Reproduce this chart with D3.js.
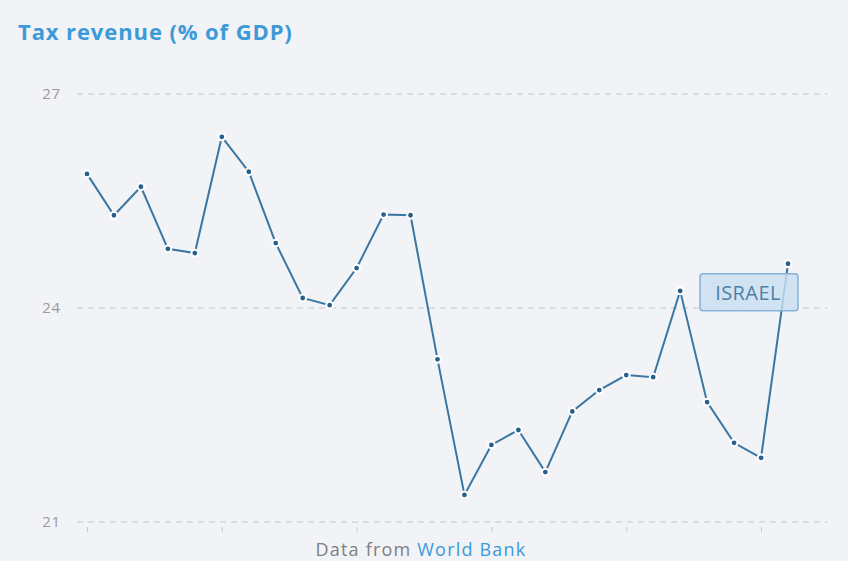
<!DOCTYPE html>
<html>
<head>
<meta charset="utf-8">
<script src="https://cdn.jsdelivr.net/npm/d3@7"></script>
<style>
  html, body { margin: 0; padding: 0; background: #f1f3f7; }
  svg { display: block; }
</style>
</head>
<body>
<svg id="chart" width="848" height="561"></svg>
<script>
const title = "Tax revenue (% of GDP)";
const seriesName = "ISRAEL";
const yearIndex = d3.range(27);
const values = [25.88, 25.30, 25.70, 24.83, 24.77, 26.40, 25.91, 24.91, 24.14, 24.04,
                24.56, 25.31, 25.30, 23.28, 21.38, 22.08, 22.29, 21.70, 22.55, 22.85,
                23.06, 23.03, 24.24, 22.68, 22.11, 21.90, 24.62];
const yTicks = [21, 24, 27];
const xTickIdx = [0, 5, 10, 15, 20, 25];

const svg = d3.select("#chart");
const W = 848, H = 561;
svg.append("rect").attr("width", W).attr("height", H).attr("fill", "#f1f3f7");

const x = d3.scaleLinear().domain([0, 26]).range([87, 788]);
const y = d3.scaleLinear().domain([21, 27]).range([522, 94]);

// title
svg.append("text")
  .attr("x", 18).attr("y", 40)
  .attr("font-family", "'Open Sans', sans-serif")
  .attr("font-weight", 700).attr("font-size", 22)
  .attr("letter-spacing", 0.9)
  .attr("fill", "#3d9ad8")
  .text(title);

// gridlines
const grid = svg.append("g");
grid.selectAll("line").data(yTicks).join("line")
  .attr("x1", 77).attr("x2", 827)
  .attr("y1", d => y(d)).attr("y2", d => y(d))
  .attr("stroke", "#d3d6db").attr("stroke-width", 1.3)
  .attr("stroke-dasharray", "6,5");

// y labels
svg.append("g").selectAll("text").data(yTicks).join("text")
  .attr("x", 61).attr("y", d => y(d) + 5)
  .attr("text-anchor", "end")
  .attr("font-family", "'Open Sans', sans-serif")
  .attr("font-size", 15).attr("letter-spacing", 0.8)
  .attr("fill", "#9a9a9a")
  .text(d => d);

// x ticks
const xAxis = d3.axisBottom(x).tickValues(xTickIdx).tickSize(5).tickFormat("");
const gx = svg.append("g").attr("transform", "translate(0,527)").call(xAxis);
gx.select(".domain").remove();
gx.selectAll(".tick line").attr("stroke", "#c8ccd2");

// line
const pts = yearIndex.map((i) => ({ i, v: values[i] }));
svg.append("path")
  .datum(pts)
  .attr("fill", "none")
  .attr("stroke", "#3b76a3")
  .attr("stroke-width", 2)
  .attr("d", d3.line().x(d => x(d.i)).y(d => y(d.v)));

// points
svg.append("g").selectAll("circle").data(pts).join("circle")
  .attr("cx", d => x(d.i)).attr("cy", d => y(d.v))
  .attr("r", 3.4)
  .attr("fill", "#28608c")
  .attr("stroke", "#ffffff").attr("stroke-width", 2);

// label box
const last = pts[pts.length - 1];
const lab = svg.append("g");
lab.append("rect")
  .attr("x", x(last.i) - 88).attr("y", y(last.v) + 10)
  .attr("width", 98).attr("height", 37).attr("rx", 3)
  .attr("fill", "#c9dff0").attr("fill-opacity", 0.82)
  .attr("stroke", "#86b3d6").attr("stroke-width", 1.5);
lab.append("text")
  .attr("x", x(last.i) - 40).attr("y", y(last.v) + 36)
  .attr("text-anchor", "middle")
  .attr("font-family", "'Open Sans', sans-serif")
  .attr("font-size", 20).attr("letter-spacing", 0.4)
  .attr("fill", "#4f7fa6")
  .text(seriesName);

// footer
const foot = svg.append("text")
  .attr("x", 421).attr("y", 556)
  .attr("text-anchor", "middle")
  .attr("font-family", "'Open Sans', sans-serif")
  .attr("font-size", 18).attr("letter-spacing", 1.2);
foot.append("tspan").attr("fill", "#808080").text("Data from ");
foot.append("tspan").attr("fill", "#3d9ad8").text("World Bank");
</script>
</body>
</html>
